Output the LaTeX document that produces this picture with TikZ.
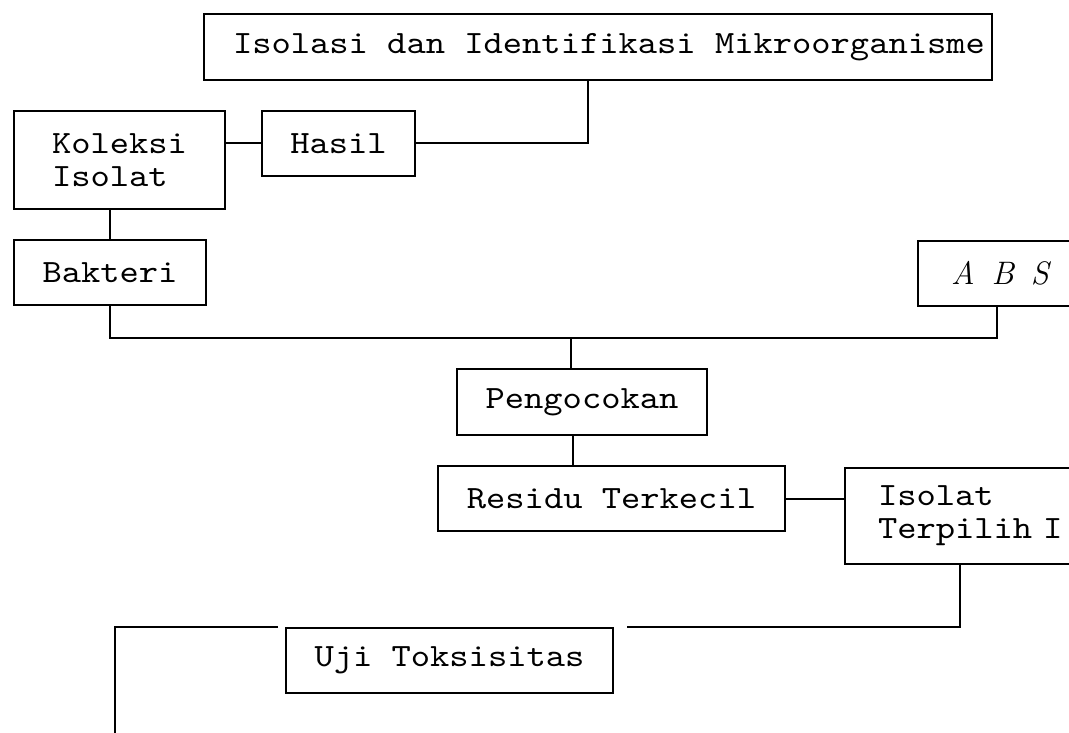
\documentclass[tikz,border=0pt]{standalone}
\usepackage{fontspec}
\setmonofont{lmmono10-regular.otf}[FakeStretch=1.13]
\begin{document}
\begin{tikzpicture}[x=1pt,y=-1pt,
  line width=2pt,
  box/.style={draw, line width=2pt, inner sep=0pt,
    font=\ttfamily\fontsize{32.5}{33}\selectfont}]
\useasboundingbox (0,0) rectangle (1069,733);
\clip (0,0) rectangle (1069,733);
\fill[white] (0,0) rectangle (1069,733);

\node[box, minimum width=788pt, minimum height=66pt] (top) at (598,47) {\hspace*{22pt}Isolasi dan Identifikasi Mikroorganisme};
\node[box, minimum width=153pt, minimum height=65pt] (hasil) at (338.5,143.5) {Hasil};
\node[box, minimum width=211pt, minimum height=98pt, align=left] (kol) at (119.5,160) {Koleksi\\Isolat};
\node[box, minimum width=192pt, minimum height=65pt] (bak) at (110,272.5) {Bakteri};
\node[box, anchor=north west, minimum width=158pt, minimum height=65pt, text width=92pt, inner xsep=33pt, align=left] (abs) at (917,240) {\mbox{\rmfamily\itshape A\hspace{17pt}B\hspace{17pt}S}};
\node[box, minimum width=250pt, minimum height=66pt] (peng) at (582,402) {Pengocokan};
\node[box, minimum width=347pt, minimum height=65pt] (res) at (611.5,498.5) {Residu Terkecil};
\node[box, anchor=north west, minimum width=232pt, minimum height=96pt, text width=166pt, inner xsep=33pt, align=left] (iso) at (844,467) {Isolat\\Terpilih~I};
\node[box, minimum width=327pt, minimum height=65pt] (uji) at (449.5,660.5) {Uji Toksisitas};

\coordinate (vA) at (588,0);
\coordinate (j1) at (571,338);
\coordinate (vB) at (573,0);
\coordinate (vC) at (960,0);
\coordinate (cEnd) at (115,745);

\draw (top.south -| vA) |- (hasil.east);
\draw (kol.east |- hasil.west) -- (hasil.west);
\draw (bak.north |- kol.south) -- (bak.north);
\draw (bak.south) |- (j1) -| (abs.south);
\draw (j1) -- (j1 |- peng.north);
\draw (peng.south -| vB) -- (res.north -| vB);
\draw (res.east) -- (res.east -| iso.west);
\draw (iso.south -| vC) |- ([xshift=13pt]uji.north east);
\draw ([xshift=-7pt]uji.north west) -| (cEnd);
\end{tikzpicture}
\end{document}
